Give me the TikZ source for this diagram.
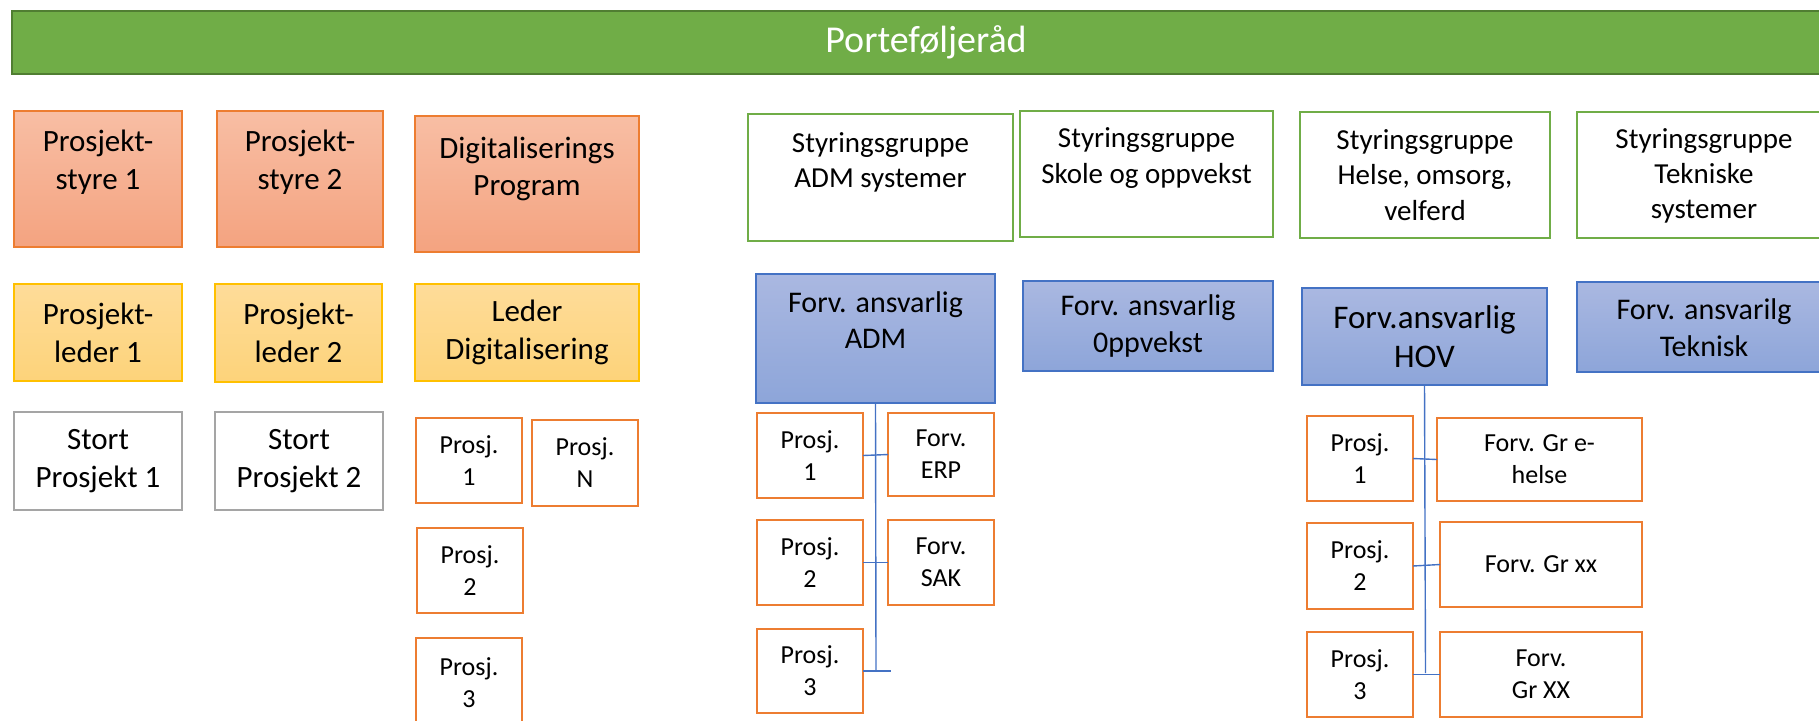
\documentclass[tikz,border=0pt]{standalone}
\usepackage{fontspec}
\setmainfont{Carlito}
\definecolor{gbar}{HTML}{70AD47}
\definecolor{gbard}{HTML}{507E32}
\definecolor{orng}{HTML}{ED7D31}
\definecolor{saltop}{HTML}{F8BEA4}
\definecolor{salbot}{HTML}{F4A380}
\definecolor{yeltop}{HTML}{FEDC99}
\definecolor{yelbot}{HTML}{FDD37A}
\definecolor{yelbd}{HTML}{FFC000}
\definecolor{grybd}{HTML}{A5A5A5}
\definecolor{blutop}{HTML}{AAB8E1}
\definecolor{blubot}{HTML}{8DA5D9}
\definecolor{blubd}{HTML}{4472C4}
\newcommand\mybox[6][]{%
  \node[base,#1,minimum width={(#4-#2)*0.5pt},minimum height={(#5-#3)*0.5pt},anchor=north west] (#6) at (#2,#3) {};}
\begin{document}
\begin{tikzpicture}[x=0.5pt,y=-0.5pt,
  base/.style={rectangle,inner sep=0pt,outer sep=0pt},
  barbox/.style={fill=gbar,draw=gbard,line width=1.2pt},
  salbox/.style={draw=orng,line width=0.8pt,top color=saltop,bottom color=salbot},
  yelbox/.style={draw=yelbd,line width=0.8pt,top color=yeltop,bottom color=yelbot},
  grybox/.style={draw=grybd,line width=1.4pt,fill=white},
  orbox/.style={draw=orng,line width=1.4pt,fill=white},
  grnbox/.style={draw=gbar,line width=1.2pt,fill=white},
  blubox/.style={draw=blubd,line width=0.8pt,top color=blutop,bottom color=blubot},
  txt/.style={align=center,inner sep=0pt,font=\fontsize{15.5}{19}\selectfont},
  midtxt/.style={align=center,inner sep=0pt,font=\fontsize{14.5}{17.6}\selectfont},
  fvtxt/.style={align=center,inner sep=0pt,font=\fontsize{15}{18.4}\selectfont},
  smtxt/.style={align=center,inner sep=0pt,font=\fontsize{13}{16}\selectfont},
  conn/.style={draw=blubd,line width=0.7pt}]
\clip (0,0) rectangle (1819,720);
% title bar
\mybox[barbox]{12}{11}{1840}{74}{bar}
\node[txt,text=white,font=\fontsize{19}{23}\selectfont] (bart) at (bar.center) {Porteføljeråd};
% left columns
\mybox[salbox]{14}{111}{182}{247}{ps1}
\mybox[salbox]{217}{111}{383}{247}{ps2}
\mybox[salbox]{415}{116}{639}{252}{dp}
\node[txt] (ps1t) at (98,162) {Prosjekt-\\styre 1};
\node[txt] (ps2t) at (300,162) {Prosjekt-\\styre 2};
\node[txt,font=\fontsize{15.5}{18.5}\selectfont] (dpt) at (527,169) {Digitaliserings\\Program};
\mybox[yelbox]{14}{284}{182}{381}{pl1}
\mybox[yelbox]{215}{284}{382}{382}{pl2}
\mybox[yelbox]{415}{284}{639}{381}{ld}
\node[txt] (pl1t) at (pl1.center) {Prosjekt-\\leder 1};
\node[txt] (pl2t) at (pl2.center) {Prosjekt-\\leder 2};
\node[txt] (ldt) at (ld.center) {Leder\\Digitalisering};
\mybox[grybox]{14}{412}{182}{510}{sp1}
\mybox[grybox]{215}{412}{383}{510}{sp2}
\node[txt] (sp1t) at (sp1.center) {Stort\\Prosjekt 1};
\node[txt] (sp2t) at (sp2.center) {Stort\\Prosjekt 2};
\mybox[orbox]{416}{418}{522}{503}{dp1}
\mybox[orbox]{532}{420}{638}{506}{dpn}
\mybox[orbox]{417}{528}{523}{613}{dp2}
\mybox[orbox]{416}{638}{522}{724}{dp3}
\node[smtxt] (dp1t) at (dp1.center) {Prosj.\\1};
\node[smtxt] (dpnt) at (dpn.center) {Prosj.\\N};
\node[smtxt] (dp2t) at (dp2.center) {Prosj.\\2};
\node[smtxt] (dp3t) at (469,683) {Prosj.\\3};
% steering groups
\mybox[grnbox]{748}{114}{1013}{241}{sadm}
\mybox[grnbox]{1020}{111}{1273}{237}{sskole}
\mybox[grnbox]{1300}{112}{1550}{238}{shelse}
\mybox[grnbox]{1577}{112}{1831}{238}{stek}
\node[midtxt] (sadmt) at (880.5,162) {Styringsgruppe\\ADM systemer};
\node[midtxt] (sskolet) at (1146.5,158) {Styringsgruppe\\Skole og oppvekst};
\node[midtxt] (shelset) at (shelse.center) {Styringsgruppe\\Helse, omsorg,\\velferd};
\node[midtxt] (stekt) at (1704,176) {Styringsgruppe\\Tekniske\\systemer};
% management
\mybox[blubox]{756}{274}{995}{403}{fadm}
\mybox[blubox]{1023}{281}{1273}{371}{fopp}
\mybox[blubox]{1302}{288}{1547}{385}{fhov}
\mybox[blubox]{1577}{282}{1831}{372}{ftek}
\node[fvtxt] (fadmt) at (875.5,320) {Forv. ansvarlig\\ADM};
\node[fvtxt] (foppt) at (fopp.center) {Forv. ansvarlig\\0ppvekst};
\node[fvtxt,font=\fontsize{16.5}{19.5}\selectfont] (fhovt) at (fhov.center) {Forv.ansvarlig\\HOV};
\node[fvtxt] (ftekt) at (1704,328) {Forv. ansvarilg\\Teknisk};
% ADM children
\mybox[orbox]{757}{413}{863}{498}{ap1}
\mybox[orbox]{888}{413}{994}{496}{aerp}
\mybox[orbox]{757}{520}{863}{605}{ap2}
\mybox[orbox]{888}{520}{994}{605}{asak}
\mybox[orbox]{757}{629}{863}{713}{ap3}
\node[smtxt] (ap1t) at (ap1.center) {Prosj.\\1};
\node[smtxt] (aerpt) at (aerp.center) {Forv.\\ERP};
\node[smtxt] (ap2t) at (ap2.center) {Prosj.\\2};
\node[smtxt] (asakt) at (asak.center) {Forv.\\SAK};
\node[smtxt] (ap3t) at (ap3.center) {Prosj.\\3};
% HOV children
\mybox[orbox]{1307}{416}{1413}{501}{hp1}
\mybox[orbox]{1437}{418}{1642}{501}{heh}
\mybox[orbox]{1307}{523}{1413}{609}{hp2}
\mybox[orbox]{1440}{522}{1642}{607}{hxx}
\mybox[orbox]{1307}{632}{1413}{717}{hp3}
\mybox[orbox]{1440}{632}{1642}{717}{hXX}
\node[smtxt] (hp1t) at (hp1.center) {Prosj.\\1};
\node[smtxt] (heht) at (heh.center) {Forv. Gr e-\\helse};
\node[smtxt] (hp2t) at (hp2.center) {Prosj.\\2};
\node[smtxt] (hxxt) at (hxx.center) {Forv. Gr xx};
\node[smtxt] (hp3t) at (hp3.center) {Prosj.\\3};
\node[smtxt] (hXXt) at (hXX.center) {Forv.\\Gr XX};
% connectors
\coordinate (aend) at (876,671);
\coordinate (atick) at (891,671);
\draw[conn] (fadm.south) -- (aend);
\draw[conn] (ap1.east) -- (aerp.west);
\draw[conn] (ap2.east) -- (asak.west);
\draw[conn] (ap3.east) -- (atick);
\coordinate (hend) at (1425.5,673);
\draw[conn] (fhov.south) -- (hend);
\draw[conn] (hp1.east) -- (heh.west);
\draw[conn] (hp2.east) -- (hxx.west);
\draw[conn] (hp3.east) -- (hXX.west);
\end{tikzpicture}
\end{document}
